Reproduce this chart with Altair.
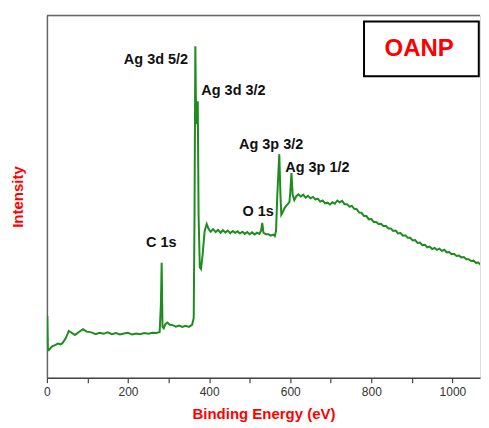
import altair as alt
import pandas as pd

# ---- spectrum ----
binding_energy = [
    0, 1, 2.5, 5, 12, 20, 27, 34, 39, 47, 54, 61, 69, 79, 89, 98,
    110, 120, 130, 140, 150, 160, 170, 180, 190, 200, 210, 220, 230, 240, 250,
    260, 270, 278, 281, 283, 285, 288, 292, 297, 303, 310, 318, 326, 334, 342,
    350, 358, 362, 364, 366, 368, 370, 372, 374, 377, 380, 384, 389, 394, 399,
    404, 410, 416, 422, 428, 434, 440, 446, 452, 458, 464, 470, 476, 482, 488,
    494, 500, 506, 512, 518, 524, 528, 531, 534, 540, 546, 552, 558, 562, 565,
    568, 573, 576, 578, 582, 586, 590, 594, 598, 600, 603, 606, 610, 615, 620,
    626, 632, 638, 644, 650, 656, 662, 668, 674, 680, 686, 692, 698, 704, 710,
    716, 722, 728, 734, 740, 746, 752, 758, 764, 770, 776, 782, 788, 794, 800,
    806, 812, 818, 824, 830, 836, 842, 848, 854, 860, 866, 872, 878, 884, 890,
    896, 902, 908, 914, 920, 926, 932, 938, 944, 950, 956, 962, 968, 974, 980,
    986, 992, 998, 1004, 1010, 1016, 1022, 1028, 1034, 1040, 1046, 1052, 1058, 1064, 1070,
    1076, 1082, 1086,
]
intensity = [
    9.0, 17.0, 8.0, 7.6, 8.6, 9.0, 9.4, 9.2, 9.6, 11.0, 12.9, 12.4, 11.8, 12.6, 13.4, 12.7,
    12.5, 12.0, 12.4, 12.1, 12.5, 12.0, 12.3, 11.9, 12.2, 12.4, 11.9, 12.2, 12.0, 12.3, 12.1,
    12.4, 12.3, 12.6, 20.0, 31.7, 14.0, 13.6, 14.8, 15.2, 14.6, 14.5, 14.1, 14.4, 14.0, 14.3,
    14.0, 14.6, 16.5, 45.0, 91.5, 70.0, 72.0, 76.3, 45.0, 30.5, 30.0, 34.0, 40.5, 42.4, 41.0,
    40.3, 41.0, 40.2, 40.8, 40.0, 40.7, 40.1, 40.6, 39.9, 40.5, 40.0, 40.4, 39.8, 40.3, 39.7,
    40.2, 39.6, 40.1, 39.5, 40.0, 39.7, 40.5, 42.7, 40.0, 39.6, 39.6, 39.2, 39.5, 39.1, 40.5,
    50.0, 61.7, 50.0, 45.0, 45.8, 46.8, 47.4, 47.9, 48.5, 51.0, 56.5, 50.5, 49.0, 50.1, 50.6,
    50.0, 50.5, 49.7, 50.2, 49.5, 49.9, 49.2, 49.4, 48.6, 48.9, 48.1, 48.3, 47.8, 48.4, 48.0,
    48.9, 48.4, 48.8, 47.9, 47.9, 47.2, 47.4, 46.6, 46.5, 45.6, 45.5, 44.6, 44.6, 43.7, 43.8,
    43.0, 43.0, 42.4, 42.5, 41.8, 41.9, 41.2, 41.2, 40.5, 40.6, 39.8, 39.9, 39.2, 39.3, 38.6,
    38.6, 37.9, 38.0, 37.2, 37.3, 36.6, 36.7, 36.0, 36.2, 35.5, 35.8, 35.3, 35.6, 35.0, 35.3,
    34.6, 34.7, 34.1, 34.2, 33.6, 33.7, 33.2, 33.3, 32.7, 32.7, 32.2, 32.3, 31.7, 31.8, 31.1,
    31.0, 30.4, 30.4,
]

# ---- peak annotations ----
peak_names = ["Ag 3d 5/2", "Ag 3d 3/2", "Ag 3p 3/2", "Ag 3p 1/2", "O 1s", "C 1s"]
peak_label_x = [269, 460, 553, 667, 521, 282]
peak_label_y = [87.6, 79.1, 64.2, 57.9, 45.7, 37.2]

# ---- sample tag box ----
tag_text = ["OANP"]
tag_box_x = [782]
tag_box_x2 = [1065]
tag_box_y = [83.2]
tag_box_y2 = [98.3]
tag_x = [918]
tag_y = [90.6]

x_ticks = [0, 100, 200, 300, 400, 500, 600, 700, 800, 900, 1000]

W, H = 434, 363
X_MAX = 1068
FONT = "Liberation Sans"

spec = pd.DataFrame({"be": binding_energy, "inten": intensity})
peaks = pd.DataFrame({"name": peak_names, "x": peak_label_x, "y": peak_label_y})
tag = pd.DataFrame({"t": tag_text, "x": tag_x, "y": tag_y,
                    "bx": tag_box_x, "bx2": tag_box_x2, "by": tag_box_y, "by2": tag_box_y2})

xscale = alt.Scale(domain=[0, X_MAX], nice=False, zero=False)
yscale = alt.Scale(domain=[0, 100], nice=False, zero=False)

line = alt.Chart(spec).mark_line(color="#1e8c1e", strokeWidth=2, clip=True).encode(
    x=alt.X("be:Q", scale=xscale, axis=alt.Axis(
        values=x_ticks,
        labelExpr="datum.value % 200 == 0 ? format(datum.value, 'd') : ''",
        title="Binding Energy (eV)",
        titleColor="#ff0000", titleFont=FONT, titleFontSize=15, titleFontWeight="bold",
        titlePadding=9,
        labelFont=FONT, labelFontSize=12, labelColor="#333333", labelPadding=4,
        tickSize=5, tickColor="#444444", tickWidth=1.2,
        domainColor="#444444", domainWidth=1.5, grid=False,
        labelFlush=False, labelOverlap=False,
    )),
    y=alt.Y("inten:Q", scale=yscale, axis=alt.Axis(
        labels=False, ticks=False, grid=False,
        title="Intensity",
        titleColor="#ff0000", titleFont=FONT, titleFontSize=15, titleFontWeight="bold",
        titlePadding=21,
        domainColor="#666666", domainWidth=1.5,
    )),
)

top_border = alt.Chart(pd.DataFrame({"a": [0]})).mark_rule(
    color="#666666", strokeWidth=1.5
).encode(x=alt.value(0), x2=alt.value(W), y=alt.value(0))

labels = alt.Chart(peaks).mark_text(
    font=FONT, fontSize=14.5, fontWeight="bold", color="#111111",
    align="center", baseline="middle",
).encode(x=alt.X("x:Q", scale=xscale), y=alt.Y("y:Q", scale=yscale), text="name:N")

box = alt.Chart(tag).mark_rect(fill="white", stroke="black", strokeWidth=2).encode(
    x=alt.X("bx:Q", scale=xscale), x2="bx2:Q",
    y=alt.Y("by:Q", scale=yscale), y2="by2:Q",
)
box_text = alt.Chart(tag).mark_text(
    font=FONT, fontSize=24, fontWeight="bold", color="#ff0000",
    align="center", baseline="middle",
).encode(x=alt.X("x:Q", scale=xscale), y=alt.Y("y:Q", scale=yscale), text="t:N")

chart = alt.layer(line, top_border, labels, box, box_text).properties(
    width=W, height=H,
    padding={"left": 3, "top": 6, "right": 0, "bottom": 0},
).configure_view(stroke=None).configure(background="white")

chart.save("out.html", embed_options={"renderer": "svg", "actions": False})
